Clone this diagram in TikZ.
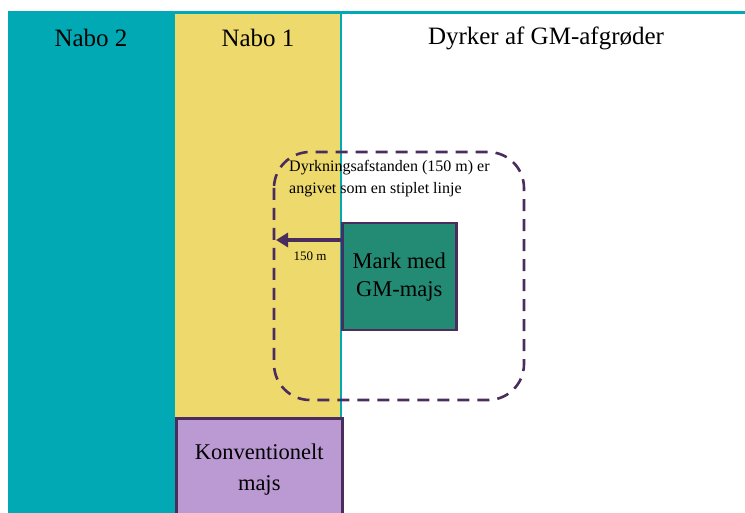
\documentclass[tikz,border=0pt]{standalone}
\usepackage{fontspec}
\setmainfont{Liberation Serif}
\usetikzlibrary{arrows.meta,positioning}
\definecolor{teal}{HTML}{00A9B4}
\definecolor{nabogul}{HTML}{EDD96C}
\definecolor{lilla}{HTML}{BB9AD4}
\definecolor{mgroen}{HTML}{238A74}
\definecolor{moerk}{HTML}{4A2C5E}
\tikzset{
  felt/.style={rectangle,draw=none,inner sep=0pt,anchor=north west},
  boks/.style={rectangle,draw=moerk,line width=2.5pt,inner sep=0pt,anchor=north west,align=center,font=\fontsize{22.5}{28}\selectfont},
  overskrift/.style={font=\fontsize{25}{28}\selectfont},
}
\begin{document}
\begin{tikzpicture}[x=1pt,y=-1pt]
\useasboundingbox(0,0)rectangle(745,513);
%fields
\node[felt,fill=teal,minimum width=167pt,minimum height=502pt](nabo2)at(8,11){};
\node[felt,fill=nabogul,minimum width=166pt,minimum height=404pt](nabo1)at(175,13){};
\draw[teal,line width=3pt](8,12.5)--(745,12.5);
\draw[teal,line width=2pt](nabo1.north east)--(nabo1.south east);
%labels
\node[overskrift](t2)at(91,38){Nabo 2};
\node[overskrift](t1)at(258,38){Nabo 1};
\node[overskrift](tgm)at(546,38){Dyrker af GM-afgrøder};
%distance
\draw[moerk,line width=2.6pt,dash pattern=on 12pt off 8pt,rounded corners=36pt](274,152)rectangle(524,400);
\node[anchor=north west,align=left,inner sep=0pt,font=\fontsize{16}{22}\selectfont](tekst)at(289,160){Dyrkningsafstanden (150 m) er\\angivet som en stiplet linje};
%boxes
\node[boks,fill=mgroen,minimum width=114pt,minimum height=107pt](mark)at(341,222){Mark med\\GM-majs};
\node[boks,fill=lilla,minimum width=166pt,minimum height=110pt,text depth=12pt,font=\fontsize{22.5}{31}\selectfont](konv)at(175,417){Konventionelt\\majs};
%arrow
\coordinate(pil)at(276,240);
\draw[moerk,line width=4pt,-{Triangle[length=12pt,width=14pt]}]([yshift=-18pt]mark.north west)--(pil);
\node[font=\fontsize{13}{15}\selectfont](afst)at(310,256){150 m};
\end{tikzpicture}
\end{document}
